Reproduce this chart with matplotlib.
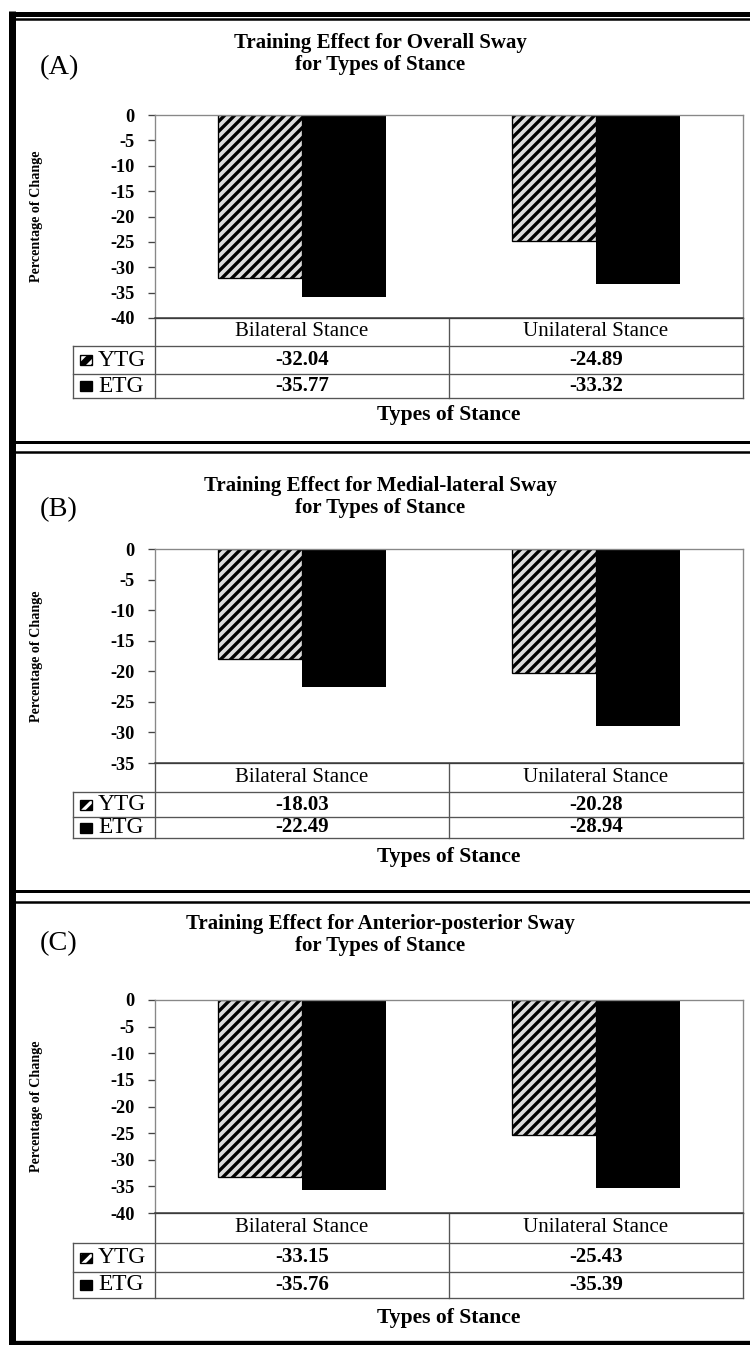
import matplotlib
matplotlib.use("Agg")
import matplotlib.pyplot as plt
import numpy as np
from matplotlib.patches import Rectangle

plt.rcParams["font.family"] = ["Liberation Serif", "DejaVu Serif"]
plt.rcParams["hatch.linewidth"] = 2.0

# data
stances = ["Bilateral Stance", "Unilateral Stance"]
groups = ["YTG", "ETG"]
panel_labels = ["(A)", "(B)", "(C)"]
titles = [
    "Training Effect for Overall Sway\nfor Types of Stance",
    "Training Effect for Medial-lateral Sway\nfor Types of Stance",
    "Training Effect for Anterior-posterior Sway\nfor Types of Stance",
]
ytg_overall = [-32.04, -24.89]
etg_overall = [-35.77, -33.32]
ytg_ml = [-18.03, -20.28]
etg_ml = [-22.49, -28.94]
ytg_ap = [-33.15, -25.43]
etg_ap = [-35.76, -35.39]
y_floor = [-40, -35, -40]
x_label = "Types of Stance"
y_label = "Percentage of Change"

series = [(ytg_overall, etg_overall), (ytg_ml, etg_ml), (ytg_ap, etg_ap)]

# layout in pixels (top origin)
W, H = 750, 1345
DPI = 120
PX_LEFT, PX_RIGHT, KEY_LEFT = 155, 743, 73
layout = [
    dict(title_y=54, label_y=68, ax_top=115, ax_bot=318, rows=[318, 346, 374, 398], types_y=415),
    dict(title_y=497, label_y=510, ax_top=549, ax_bot=763, rows=[763, 792, 817, 838], types_y=857),
    dict(title_y=935, label_y=944, ax_top=1000, ax_bot=1213, rows=[1213, 1243, 1272, 1298], types_y=1318),
]

fig = plt.figure(figsize=(W / DPI, H / DPI), dpi=DPI)
bg = fig.add_axes([0, 0, 1, 1], zorder=0)
bg.set_xlim(0, W)
bg.set_ylim(H, 0)
bg.axis("off")

# outer frame and separators
bg.plot([11.5, 11.5], [11, H], color="black", lw=4.2, solid_capstyle="butt")
for y, lw in [(13.5, 3.0), (19, 1.5), (441.5, 1.8), (452, 1.5), (891, 1.8), (901.5, 1.5), (1343, 2.6)]:
    bg.plot([9, W], [y, y], color="black", lw=lw, solid_capstyle="butt")

line_c = "#555555"
col_w = (PX_RIGHT - PX_LEFT) / len(stances)
col_centers = [PX_LEFT + col_w * (i + 0.5) for i in range(len(stances))]
bar_w = 0.286
x = np.arange(len(stances))

for i, (ytg, etg) in enumerate(series):
    L = layout[i]
    ax = fig.add_axes([PX_LEFT / W, 1 - L["ax_bot"] / H,
                       (PX_RIGHT - PX_LEFT) / W, (L["ax_bot"] - L["ax_top"]) / H], zorder=2)
    ax.bar(x - bar_w / 2, ytg, bar_w, align="center", facecolor="#dcdcdc",
           edgecolor="black", hatch="////", lw=0.8)
    ax.bar(x + bar_w / 2, etg, bar_w, align="center", color="black")
    ax.set_xlim(-0.5, len(stances) - 0.5)
    ax.set_ylim(y_floor[i], 0)
    ticks = np.arange(y_floor[i], 1, 5)
    ax.set_yticks(ticks)
    ax.set_yticklabels([str(v) for v in ticks], fontsize=11, fontweight="bold")
    ax.set_xticks([])
    ax.tick_params(axis="y", length=4, width=0.8, color="#444444", pad=8)
    for side in ["left", "top", "right"]:
        ax.spines[side].set_color("#888888")
        ax.spines[side].set_linewidth(0.8)
    ax.spines["bottom"].set_color("#333333")
    ax.spines["bottom"].set_linewidth(0.9)
    ax.set_ylabel(y_label, fontsize=8.5, fontweight="bold")
    ax.yaxis.set_label_coords(-(PX_LEFT - 43) / (PX_RIGHT - PX_LEFT), 0.5)

    # title and panel letter
    bg.text(380, L["title_y"], titles[i], ha="center", va="center",
            fontsize=12.5, fontweight="bold", linespacing=1.1)
    bg.text(40, L["label_y"], panel_labels[i], ha="left", va="center", fontsize=17)

    # data table under the bars
    r = L["rows"]
    bg.plot([PX_LEFT, PX_RIGHT], [r[0], r[0]], color=line_c, lw=0.8)
    for y in r[1:]:
        bg.plot([KEY_LEFT, PX_RIGHT], [y, y], color=line_c, lw=0.8)
    bg.plot([KEY_LEFT, KEY_LEFT], [r[1], r[3]], color=line_c, lw=0.8)
    bg.plot([PX_LEFT, PX_LEFT], [r[0], r[3]], color=line_c, lw=0.8)
    bg.plot([PX_LEFT + col_w, PX_LEFT + col_w], [r[0], r[3]], color=line_c, lw=0.8)
    bg.plot([PX_RIGHT, PX_RIGHT], [r[0], r[3]], color=line_c, lw=0.8)

    for c, name in enumerate(stances):
        bg.text(col_centers[c], (r[0] + r[1]) / 2, name, ha="center", va="center", fontsize=12.5)
        bg.text(col_centers[c], (r[1] + r[2]) / 2, f"{ytg[c]:.2f}", ha="center", va="center",
                fontsize=12.5, fontweight="bold")
        bg.text(col_centers[c], (r[2] + r[3]) / 2, f"{etg[c]:.2f}", ha="center", va="center",
                fontsize=12.5, fontweight="bold")

    for g, name in enumerate(groups):
        yc = (r[g + 1] + r[g + 2]) / 2
        if g == 0:
            bg.add_patch(Rectangle((80, yc - 5), 12, 10, facecolor="black", edgecolor="white",
                                   hatch="///", lw=0))
        bg.add_patch(Rectangle((80, yc - 5), 12, 10, facecolor="black" if g else "none",
                               edgecolor="black", lw=0.8))
        bg.text(98, yc, name, ha="left", va="center", fontsize=14)

    bg.text(PX_LEFT + col_w, L["types_y"], x_label, ha="center", va="center",
            fontsize=13, fontweight="bold")

fig.savefig("out.png", dpi=DPI)
